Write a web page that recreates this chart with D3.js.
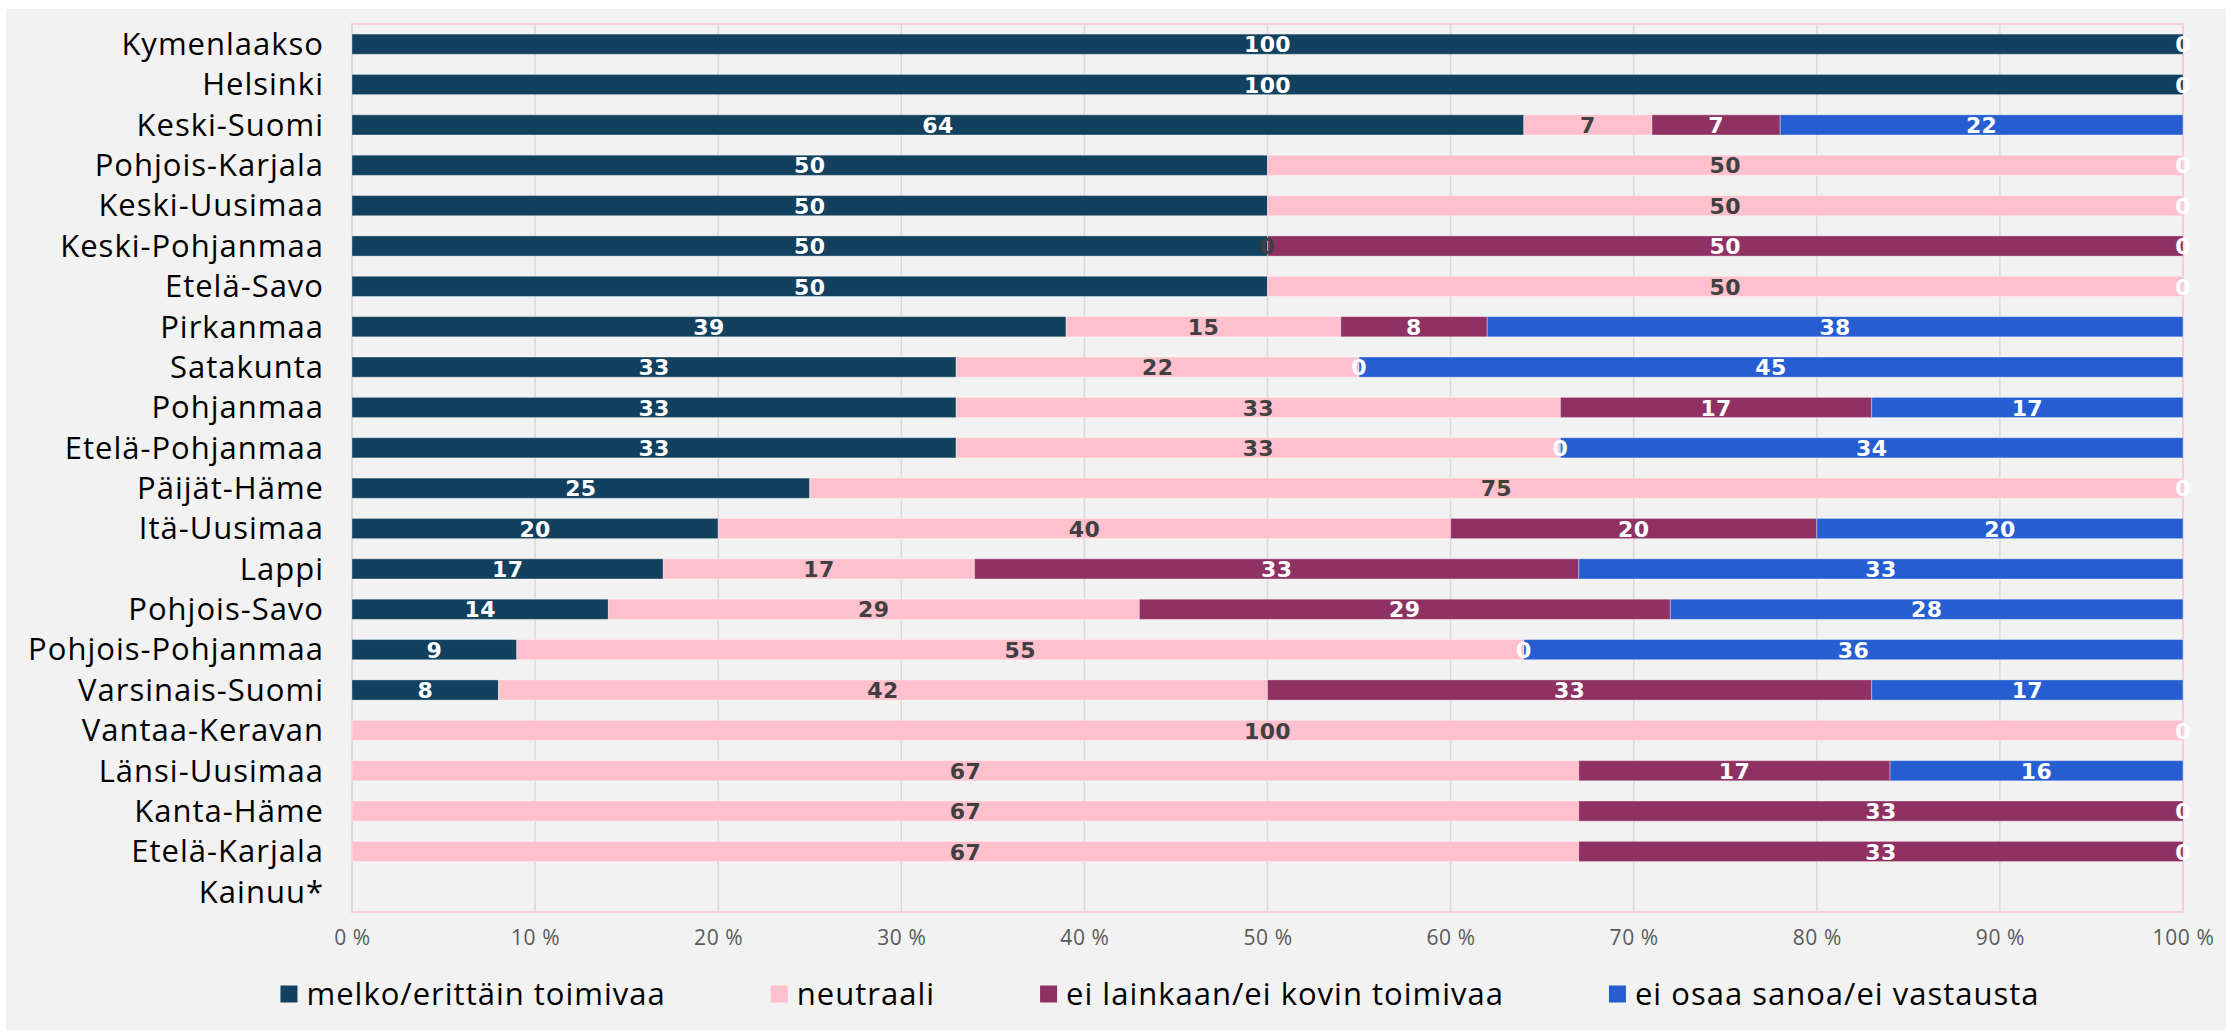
<!DOCTYPE html>
<html>
<head>
<meta charset="utf-8">
<script src="https://cdn.jsdelivr.net/npm/d3@7"></script>
<style>
  body { margin: 0; background: #fff; }
  text { font-family: "Open Sans", "Noto Sans", sans-serif; }
</style>
</head>
<body>
<div id="chart"></div>
<script>
// regions, top to bottom
var regions = ["Kymenlaakso", "Helsinki", "Keski-Suomi", "Pohjois-Karjala", "Keski-Uusimaa",
  "Keski-Pohjanmaa", "Etelä-Savo", "Pirkanmaa", "Satakunta", "Pohjanmaa", "Etelä-Pohjanmaa",
  "Päijät-Häme", "Itä-Uusimaa", "Lappi", "Pohjois-Savo", "Pohjois-Pohjanmaa", "Varsinais-Suomi",
  "Vantaa-Keravan", "Länsi-Uusimaa", "Kanta-Häme", "Etelä-Karjala", "Kainuu*"]

var seriesNames = ["melko/erittäin toimivaa", "neutraali", "ei lainkaan/ei kovin toimivaa", "ei osaa sanoa/ei vastausta"]

// null = no value (no label), 0 = zero label shown
var toimivaa = [100, 100, 64, 50, 50, 50, 50, 39, 33, 33, 33, 25, 20, 17, 14, 9, 8, null, null, null, null, null]
var neutraali = [null, null, 7, 50, 50, 0, 50, 15, 22, 33, 33, 75, 40, 17, 29, 55, 42, 100, 67, 67, 67, null]
var eiToimivaa = [null, null, 7, null, null, 50, null, 8, 0, 17, 0, null, 20, 33, 29, 0, 33, null, 17, 33, 33, null]
var eiOsaa = [0, 0, 22, 0, 0, 0, 0, 38, 45, 17, 34, 0, 20, 33, 28, 36, 17, 0, 16, 0, 0, null]

var xTicks = [0, 10, 20, 30, 40, 50, 60, 70, 80, 90, 100]

var colors = ["#12405f", "#ffc0cd", "#8f3263", "#265ed2"]
var labelColors = ["#ffffff", "#404040", "#ffffff", "#ffffff"]

var W = 2226, H = 1030
var plot = { left: 352, right: 2183, top: 24, bottom: 912 }

var svg = d3.select("#chart").append("svg")
  .attr("width", W)
  .attr("height", H)

svg.append("rect")
  .attr("x", 6).attr("y", 9)
  .attr("width", W - 6).attr("height", H - 9)
  .attr("fill", "#f2f2f2")

var x = d3.scaleLinear().domain([0, 100]).range([plot.left, plot.right])
var y = d3.scaleBand().domain(regions).range([plot.top, plot.bottom])
  .paddingInner(0.5).paddingOuter(0.25)

// plot border
svg.append("rect")
  .attr("x", plot.left).attr("y", plot.top)
  .attr("width", plot.right - plot.left).attr("height", plot.bottom - plot.top)
  .attr("fill", "none")
  .attr("stroke", "#f3cddb")
  .attr("stroke-width", 2)

// gridlines
svg.append("g")
  .selectAll("line")
  .data(xTicks.slice(0, -1))
  .join("line")
  .attr("x1", d => x(d)).attr("x2", d => x(d))
  .attr("y1", plot.top).attr("y2", plot.bottom)
  .attr("stroke", "#d9d9d9")
  .attr("stroke-width", 1.5)

// x axis tick labels
var xAxis = svg.append("g")
  .attr("transform", "translate(0," + 938 + ")")
  .call(d3.axisBottom(x).tickValues(xTicks).tickFormat(d => d + " %").tickSize(0).tickPadding(0))
xAxis.select(".domain").remove()
xAxis.selectAll("text")
  .attr("dy", "0.35em")
  .attr("y", 0)
  .style("font-size", "21px")
  .style("letter-spacing", "0.6px")
  .style("font-family", "\"Open Sans\", sans-serif")
  .attr("fill", "#595959")

// stacked data
var rows = regions.map((r, i) => ({
  region: r,
  vals: [toimivaa[i], neutraali[i], eiToimivaa[i], eiOsaa[i]]
}))

var segments = []
rows.forEach(row => {
  var acc = 0
  row.vals.forEach((v, k) => {
    if (v === null) return
    segments.push({ region: row.region, k: k, x0: acc, x1: acc + v, v: v })
    acc += v
  })
})

svg.append("g")
  .selectAll("rect")
  .data(segments.filter(d => d.v > 0))
  .join("rect")
  .attr("x", d => x(d.x0))
  .attr("width", d => x(d.x1) - x(d.x0))
  .attr("y", d => y(d.region))
  .attr("height", y.bandwidth())
  .attr("fill", d => colors[d.k])
  .attr("stroke", "rgba(255,255,255,0.35)")
  .attr("stroke-width", 1)

// data labels
svg.append("g")
  .selectAll("text")
  .data(segments)
  .join("text")
  .attr("x", d => x((d.x0 + d.x1) / 2))
  .attr("y", d => y(d.region) + y.bandwidth() / 2)
  .attr("dy", "0.37em")
  .attr("text-anchor", "middle")
  .attr("fill", d => labelColors[d.k])
  .style("font-size", "22px")
  .style("font-weight", "700")
  .style("letter-spacing", "0.4px")
  .style("font-family", "\"DejaVu Sans\", sans-serif")
  .text(d => d.v)

// category labels
svg.append("g")
  .selectAll("text")
  .data(regions)
  .join("text")
  .attr("x", 324)
  .attr("y", d => y(d) + y.bandwidth() / 2)
  .attr("dy", "0.35em")
  .attr("text-anchor", "end")
  .attr("fill", "#000")
  .style("font-size", "31px")
  .style("letter-spacing", "1px")
  .text(d => d)

// legend
var legend = svg.append("g")
var lx = 0
seriesNames.forEach((name, k) => {
  var item = legend.append("g").attr("transform", "translate(" + lx + ",0)")
  item.append("rect")
    .attr("x", 0).attr("y", -8.5)
    .attr("width", 17).attr("height", 17)
    .attr("fill", colors[k])
  var t = item.append("text")
    .attr("x", 26)
    .attr("dy", "0.35em")
    .attr("fill", "#000")
    .style("font-size", "31px")
    .style("letter-spacing", "1px")
    .text(name)
  lx += 26 + t.node().getComputedTextLength() + 105
})
var legendW = lx - 105
legend.attr("transform", "translate(" + (1160 - legendW / 2) + "," + 994 + ")")
</script>
</body>
</html>
